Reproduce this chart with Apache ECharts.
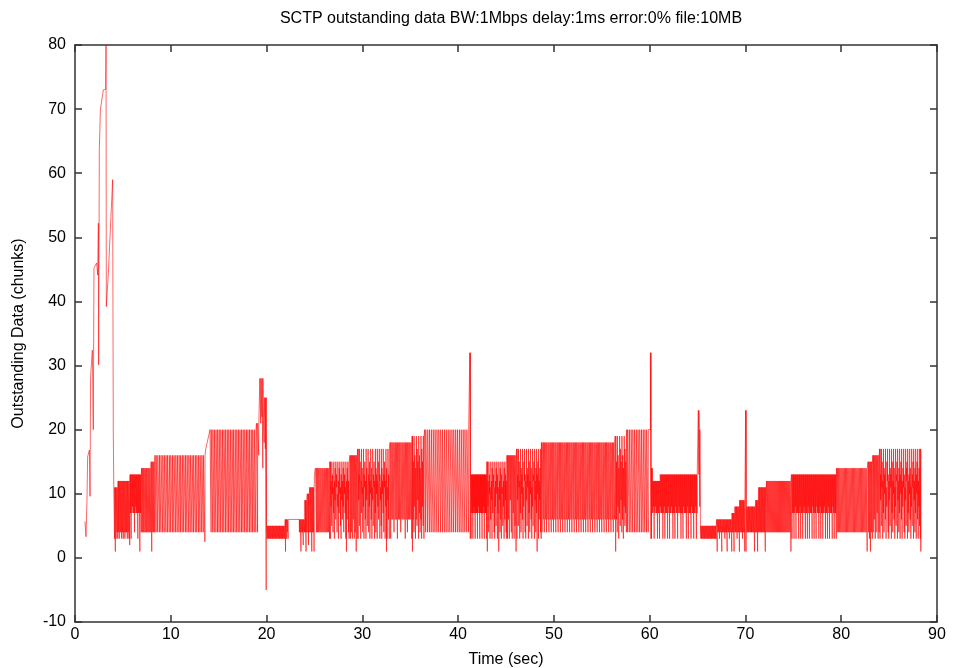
<!DOCTYPE html>
<html>
<head>
<meta charset="utf-8">
<title>SCTP outstanding data</title>
<script src="https://cdn.jsdelivr.net/npm/echarts@6/dist/echarts.min.js"></script>
<style>
  html, body { margin: 0; padding: 0; background: #ffffff; }
  #chart { width: 956px; height: 668px; }
</style>
</head>
<body>
<div id="chart"></div>
<script>
// SCTP association trace: outstanding chunks over time (BW 1 Mbps, delay 1 ms, 0% loss, 10 MB file)

const chartTitle = 'SCTP outstanding data BW:1Mbps delay:1ms error:0% file:10MB';
const xTitle = 'Time (sec)';
const yTitle = 'Outstanding Data (chunks)';
const xTicks = [0, 10, 20, 30, 40, 50, 60, 70, 80, 90];
const yTicks = [-10, 0, 10, 20, 30, 40, 50, 60, 70, 80];

// Slow start: [time s, outstanding chunks]
const startup = [
  [1.04, 5.7], [1.15, 3.3], [1.25, 9.0], [1.32, 15.8], [1.5, 16.8], [1.57, 9.6], [1.63, 28.3],
  [1.81, 32.4], [1.91, 20.0], [1.98, 45.2], [2.26, 46.0], [2.37, 44.1], [2.44, 52.2], [2.47, 30.1],
  [2.54, 63.6], [2.65, 69.9], [2.96, 73.0], [3.2, 73.1], [3.24, 80], [3.27, 39.2], [3.48, 44.4],
  [3.93, 59.0], [3.97, 35.1], [4.0, 19.4]
];

// Congestion window level (chunks) from the given time onwards
const cwndSteps = [
  [4.05, 11], [4.5, 12], [5.75, 13], [6.95, 14], [7.95, 15], [8.35, 16],
  [13.65, 17], [13.8, 18], [13.95, 19], [14.1, 20], [18.95, 21], [19.3, 28], [19.68, 21],
  [19.8, 25], [20.0, 5], [21.95, 6], [24.0, 9], [24.25, 10], [24.5, 11], [25.0, 13], [25.1, 14],
  [26.6, 15], [28.7, 16], [29.5, 17], [32.9, 18], [35.2, 19], [36.5, 20], [41.22, 32], [41.3, 13],
  [43.0, 15], [45.1, 16], [46.1, 17], [48.7, 18], [56.4, 19], [57.6, 20], [60.08, 32], [60.15, 14],
  [60.3, 12], [61.1, 13], [65.08, 23], [65.18, 20], [65.3, 5], [67.0, 6], [68.6, 7], [68.9, 8],
  [69.4, 9], [70.02, 23], [70.08, 8], [71.1, 9], [71.4, 11], [72.2, 12], [74.8, 13], [79.5, 14],
  [82.8, 15], [83.3, 16], [84.0, 17]
];

// SACK arrivals: [time s, outstanding chunks right after the SACK, refill peak when below the window]
const sacksA = [
  [4.12,3],[4.2,1],[4.28,3],[4.37,4],[4.45,3],
  [4.53,4],[4.61,3],[4.7,4],[4.78,4],[4.86,3],[4.95,4],[5.03,3],[5.12,4],[5.2,3],[5.28,4],[5.37,4],[5.45,3],[5.53,4],[5.62,3],[5.7,2],
  [5.78,7],[5.85,3],[5.92,7],[5.99,8],[6.06,7],[6.13,7],[6.2,4],[6.27,7],[6.34,8],[6.41,7],[6.48,7],[6.55,3],[6.62,7],[6.69,7],[6.76,1],[6.83,7],[6.9,4],
  [7.0,4],[7.1,4],[7.19,4],[7.3,4],[7.4,4],[7.49,4],[7.6,4],[7.7,4],[7.8,4],[7.9,4],[8.0,1],[8.1,4],[8.2,4],[8.3,4],
  [8.45,4],[8.62,4],[8.8,4],[8.96,4],[9.14,4],[9.3,4],[9.48,4],[9.64,4],[9.82,4],[9.98,4],[10.16,4],[10.32,4],[10.5,4],[10.66,4],[10.84,4],[11.0,4],
  [11.18,4],[11.34,4],[11.52,4],[11.68,4],[11.86,4],[12.02,4],[12.2,4],[12.36,4],[12.54,4],[12.7,4],[12.88,4],[13.04,4],[13.22,4],[13.38,4],[13.55,2.5],
  [14.2,4],[14.37,4],[14.53,4],[14.7,4],[14.87,4],[15.03,4],[15.2,4],[15.37,4],[15.53,4],[15.7,4],[15.87,4],[16.03,4],[16.2,4],[16.37,4],[16.53,4],
  [16.7,4],[16.87,4],[17.03,4],[17.2,4],[17.37,4],[17.53,4],[17.7,4],[17.87,4],[18.03,4],[18.2,4],[18.37,4],[18.53,4],[18.7,4],[18.87,4],
  [19.05,4],[19.17,16],[19.38,21],[19.5,22],[19.6,14],[19.74,18],[19.86,17],[19.95,-5]
];

const sacksB = [
  [20.05,3],[20.13,3],[20.21,3],[20.29,3],[20.37,3],[20.45,3],[20.53,3],[20.61,3],[20.69,3],[20.77,3],[20.85,3],[20.93,3],
  [21.01,3],[21.09,3],[21.17,3],[21.25,3],[21.33,3],[21.41,3],[21.49,3],[21.57,3],[21.65,3],[21.73,3],[21.81,3],[21.89,3],
  [21.97,1],[22.06,3],[22.15,4],[22.24,3],
  [23.42,4],[23.5,4],[23.58,1],[23.66,4],[23.74,4],[23.82,2],[23.9,4],[23.97,4],
  [24.04,4],[24.11,1],[24.18,4],[24.3,4],[24.37,2],[24.44,4],[24.55,4],[24.63,4],[24.71,1],[24.79,4],[24.87,4],[24.95,1],
  [25.2,4],[25.31,4],[25.42,4],[25.54,4],[25.65,4],[25.77,4],[25.88,4],[26.0,4],[26.11,4],[26.23,4],[26.34,4],[26.46,4],[26.57,3],
  [26.65,3],[26.72,8,12],[26.79,5],[26.86,10,13],[26.93,4,11],[27.0,7],[27.07,3,12],[27.14,9,14],[27.21,6],[27.28,11,13],[27.35,4,10],[27.42,8],
  [27.49,3,12],[27.56,7,14],[27.63,10],[27.7,5,11],[27.77,3,13],[27.84,9],[27.91,6,12],[27.98,8,14],[28.05,4],[28.12,10,13],[28.19,7,11],[28.26,3],
  [28.33,1,12],[28.4,6,14],[28.47,9],[28.54,4,12],[28.61,3],
  [28.75,3],[28.85,4],[28.95,3],[29.05,6],[29.15,3],[29.25,4],[29.35,1],[29.45,3],
  [29.55,3],[29.62,9,13],[29.68,5],[29.75,12,15],[29.82,3,12],[29.89,7],[29.96,10,14],[30.03,4,11],[30.1,8],[30.16,3,13],[30.23,11,15],[30.3,6,12],
  [30.37,3],[30.44,9,14],[30.51,5,11],[30.58,12],[30.65,4,13],[30.72,8,15],[30.78,3,12],[30.85,10],[30.92,6,14],[30.99,3,11],[31.06,9],[31.13,5,13],
  [31.2,11,15],[31.27,3,12],[31.34,7],[31.4,4,14],[31.47,10,13],[31.54,3],[31.61,8,12],[31.68,6,15],[31.75,12],[31.82,3,13],[31.89,9,11],[31.96,5],
  [32.02,3,14],[32.09,10,12],[32.16,7],[32.23,4,13],[32.3,11,15],[32.37,3,12],[32.44,8],[32.51,1,14],[32.58,3,11],[32.65,9],[32.72,6,13],[32.8,3],
  [32.95,3],[33.07,6],[33.18,6],[33.3,4],[33.42,6],[33.53,6],[33.65,3],[33.77,6],[33.88,6],[34.0,4],[34.12,6],[34.23,6],[34.35,6],[34.47,3],[34.58,6],[34.7,4],
  [34.82,6],[34.93,6],[35.05,6],[35.15,3],
  [35.22,1],[35.3,6,15],[35.38,4],[35.46,8,16],[35.54,3,14],[35.62,6],[35.7,5,17],[35.78,9,15],[35.86,3],[35.94,7,16],[36.02,4,14],[36.1,6],
  [36.18,3,17],[36.26,8,15],[36.34,5],[36.42,3],
  [36.6,4],[36.8,4],[36.99,4],[37.18,4],[37.38,4],[37.57,4],[37.77,4],[37.96,4],[38.16,4],[38.35,4],[38.55,4],[38.74,4],[38.94,4],[39.13,4],[39.33,4],[39.52,4],
  [39.72,4],[39.91,4],[40.11,4],[40.3,4],[40.5,4],[40.69,4],[40.89,4],[41.08,4],
  [41.26,3]
];

const sacksC = [
  [41.35,3],[41.41,7],[41.47,7],[41.53,3],[41.59,7],[41.65,8],[41.71,7],[41.77,3],[41.83,7],[41.89,7],[41.95,7],[42.01,3],[42.07,7],[42.13,8],
  [42.19,7],[42.25,3],[42.31,7],[42.37,7],[42.43,7],[42.49,3],[42.55,7],[42.61,7],[42.67,8],[42.73,3],[42.79,7],[42.85,7],[42.91,7],[42.97,3],
  [43.04,1],[43.11,8,12],[43.18,4],[43.25,10,13],[43.32,3,11],[43.39,6],[43.46,9,12],[43.53,3,14],[43.6,7],[43.67,11,13],[43.74,4,11],[43.81,3],
  [43.88,8,12],[43.95,5,14],[44.02,10],[44.09,3,13],[44.16,7,11],[44.23,1],[44.3,9,12],[44.37,4,14],[44.44,6],[44.51,3,13],[44.58,10,11],[44.65,5],
  [44.72,8,12],[44.79,3,14],[44.86,6],[44.93,9,13],[45.0,4,12],[45.06,3],
  [45.14,3],[45.24,6],[45.34,3],[45.44,9],[45.54,4],[45.64,3],[45.74,7],[45.84,3],[45.94,5],[46.04,1],
  [46.14,3],[46.21,9,13],[46.28,5],[46.35,11,15],[46.42,3,12],[46.49,7],[46.56,4,14],[46.63,10,13],[46.7,6],[46.77,3,11],[46.84,8,15],[46.91,12],
  [46.98,4,13],[47.05,3,12],[47.12,9],[47.19,5,14],[47.26,11,13],[47.33,3],[47.4,7,15],[47.47,4,12],[47.54,10],[47.61,6,14],[47.68,3,11],[47.75,8],
  [47.82,5,13],[47.89,12,15],[47.96,3],[48.03,9,12],[48.1,4,14],[48.17,7],[48.24,1,13],[48.31,10,15],[48.38,3],[48.45,6,12],[48.52,9,14],[48.59,4],[48.66,3],
  [48.75,4],[48.88,6],[48.99,4],[49.12,6],[49.23,4],[49.36,6],[49.47,4],[49.6,6],[49.71,4],[49.84,6],[49.95,4],[50.08,6],[50.19,4],[50.32,6],[50.43,4],[50.56,6],
  [50.67,4],[50.8,6],[50.91,4],[51.04,6],[51.15,4],[51.28,6],[51.39,4],[51.52,6],[51.63,4],[51.76,6],[51.87,4],[52.0,6],[52.11,4],[52.24,6],[52.35,4],[52.48,6],
  [52.59,4],[52.72,6],[52.83,4],[52.96,6],[53.07,4],[53.2,6],[53.31,4],[53.44,6],[53.55,4],[53.68,6],[53.79,4],[53.92,6],[54.03,4],[54.16,6],[54.27,4],[54.4,6],
  [54.51,4],[54.64,6],[54.75,4],[54.88,6],[54.99,4],[55.12,6],[55.23,4],[55.36,6],[55.47,4],[55.6,6],[55.71,4],[55.84,6],[55.95,4],[56.08,6],[56.19,4],[56.32,6],
  [56.44,1],[56.52,6,15],[56.6,4],[56.68,8,16],[56.76,3,14],[56.84,7],[56.92,5,17],[57.0,9,15],[57.08,4],[57.16,6,16],[57.24,3,14],[57.32,8],
  [57.4,5,17],[57.48,7,15],[57.56,4],
  [57.68,4],[57.86,4],[58.04,4],[58.22,4],[58.4,4],[58.58,4],[58.76,4],[58.94,4],[59.12,4],[59.3,4],[59.48,4],[59.66,4],[59.84,4],
  [60.12,3]
];

const sacksD = [
  [60.18,3],[60.25,7],[60.32,7],[60.39,8],[60.46,3],[60.53,7],[60.6,8],[60.67,7],[60.74,7],[60.81,3],[60.88,7],[60.95,7],[61.02,3],[61.09,8],
  [61.16,7],[61.23,7],[61.3,7],[61.37,3],[61.44,7],[61.51,8],[61.58,3],[61.65,7],[61.72,7],[61.79,7],[61.86,3],[61.93,8],[62.0,7],[62.07,3],
  [62.14,7],[62.21,7],[62.28,8],[62.35,7],[62.42,3],[62.49,7],[62.56,7],[62.63,3],[62.7,8],[62.77,7],[62.84,7],[62.91,3],[62.98,7],[63.05,8],
  [63.12,7],[63.19,7],[63.26,3],[63.33,7],[63.4,7],[63.47,3],[63.54,8],[63.61,7],[63.68,7],[63.75,7],[63.82,3],[63.89,7],[63.96,8],[64.03,3],
  [64.1,7],[64.17,7],[64.24,7],[64.31,3],[64.38,8],[64.45,7],[64.52,7],[64.59,3],[64.66,7],[64.73,7],[64.8,8],[64.87,3],[64.94,7],
  [65.12,13],[65.22,8],
  [65.33,3],[65.41,3],[65.49,3],[65.57,3],[65.65,3],[65.73,3],[65.81,3],[65.89,3],[65.97,3],[66.05,3],[66.13,3],[66.21,3],[66.29,3],[66.37,3],
  [66.45,3],[66.53,3],[66.61,3],[66.69,3],[66.77,3],[66.85,3],[66.93,3],
  [67.04,1],[67.12,4],[67.2,4],[67.28,3],[67.36,4],[67.44,4],[67.52,1],[67.6,4],[67.68,4],[67.76,4],[67.84,3],[67.92,4],[68.0,4],[68.08,1],
  [68.16,4],[68.24,4],[68.32,3],[68.4,4],[68.48,4],[68.56,1],
  [68.64,4],[68.72,4],[68.8,1],[68.88,4],[68.96,4],[69.04,4],[69.12,3],[69.2,4],[69.28,4],[69.36,1],[69.44,4],[69.52,4],[69.6,4],[69.68,3],
  [69.76,4],[69.84,4],[69.92,1],
  [70.05,1],
  [70.14,4],[70.22,4],[70.3,4],[70.38,4],[70.46,4],[70.54,4],[70.62,4],[70.7,4],[70.78,4],[70.86,4],[70.94,1],[71.02,4],[71.1,4],[71.18,4],
  [71.26,1],[71.34,4],[71.42,4],[71.5,4],[71.58,4],[71.66,4],[71.74,4],[71.82,4],[71.9,4],[71.98,4],[72.06,1],[72.14,4]
];

const sacksE = [
  [72.24,4],[72.34,4],[72.44,4],[72.54,4],[72.64,4],[72.74,4],[72.84,4],[72.94,4],[73.04,4],[73.14,4],[73.24,4],[73.34,4],[73.44,4],
  [73.54,4],[73.64,4],[73.74,4],[73.84,4],[73.94,4],[74.04,4],[74.14,4],[74.24,4],[74.34,4],[74.44,4],[74.54,4],[74.64,4],[74.74,1],
  [74.85,3],[74.92,7],[74.99,7],[75.06,3],[75.13,7],[75.2,8],[75.27,3],[75.34,7],[75.41,7],[75.48,7],[75.55,3],[75.62,7],[75.69,8],[75.76,3],
  [75.83,7],[75.9,7],[75.97,3],[76.04,7],[76.11,8],[76.18,7],[76.25,3],[76.32,7],[76.39,7],[76.46,3],[76.53,8],[76.6,7],[76.67,3],[76.74,7],
  [76.81,7],[76.88,7],[76.95,3],[77.02,8],[77.09,7],[77.16,3],[77.23,7],[77.3,7],[77.37,3],[77.44,8],[77.51,7],[77.58,7],[77.65,3],[77.72,7],
  [77.79,8],[77.86,3],[77.93,7],[78.0,7],[78.07,3],[78.14,7],[78.21,8],[78.28,7],[78.35,3],[78.42,7],[78.49,7],[78.56,3],[78.63,8],[78.7,7],
  [78.77,3],[78.84,7],[78.91,7],[78.98,7],[79.05,3],[79.12,8],[79.19,7],[79.26,3],[79.33,7],[79.4,7],[79.47,3],
  [79.58,4],[79.7,4],[79.82,4],[79.94,4],[80.06,4],[80.18,4],[80.3,4],[80.42,4],[80.54,4],[80.66,4],[80.78,4],[80.9,4],[81.02,4],[81.14,4],
  [81.26,4],[81.38,4],[81.5,4],[81.62,4],[81.74,4],[81.86,4],[81.98,4],[82.1,4],[82.22,4],[82.34,4],[82.46,4],[82.58,4],[82.7,1],
  [82.84,4],[82.94,3],[83.04,1],[83.14,4],[83.24,3],[83.34,4],[83.44,6],[83.54,3],[83.64,4],[83.74,7],[83.84,3],[83.94,4],
  [84.04,3],[84.11,9,13],[84.18,5],[84.25,11,15],[84.32,3,12],[84.39,7],[84.46,4,14],[84.53,10,13],[84.6,6],[84.67,3,11],[84.74,8,15],[84.81,12],
  [84.88,4,13],[84.95,3,12],[85.02,9],[85.09,5,14],[85.16,11,13],[85.23,3],[85.3,7,15],[85.37,4,12],[85.44,10],[85.51,6,14],[85.58,3,11],[85.65,8],
  [85.72,5,13],[85.79,12,15],[85.86,3],[85.93,9,12],[86.0,4,14],[86.07,7],[86.14,3,13],[86.21,10,15],[86.28,6],[86.35,3,12],[86.42,8,14],[86.49,11],
  [86.56,4,13],[86.63,3,11],[86.7,9],[86.77,5,14],[86.84,12,15],[86.91,3],[86.98,7,12],[87.05,4,13],[87.12,10],[87.19,6,14],[87.26,3,11],[87.33,8],
  [87.4,5,13],[87.47,11,15],[87.54,3],[87.61,9,12],[87.68,4,14],[87.75,7],[87.82,3,13],[87.89,10,15],[87.96,6],[88.03,3,12],[88.1,8,14],[88.17,5],
  [88.24,3],[88.3,1]
];

// Walk the cwnd steps and SACK arrivals in time order: at each SACK the
// trace drops to the post-SACK value, then refills to the window (or to the
// given peak) and holds there until the next event.
function buildTrace() {
  const pts = startup.map(p => [p[0], p[1]]);
  const sacks = [].concat(sacksA, sacksB, sacksC, sacksD, sacksE);
  const dip = 0.012;
  let level = null;
  let top = null;
  let si = 0;
  let k = 0;
  while (si < cwndSteps.length || k < sacks.length) {
    const ts = si < cwndSteps.length ? cwndSteps[si][0] : Infinity;
    const tk = k < sacks.length ? sacks[k][0] : Infinity;
    if (ts <= tk) {
      if (top !== null) pts.push([ts, top]);
      level = cwndSteps[si][1];
      top = level;
      pts.push([ts, level]);
      si++;
    } else {
      const s = sacks[k];
      const peak = s.length > 2 ? s[2] : level;
      pts.push([s[0], top], [s[0] + dip, s[1]], [s[0] + 2 * dip, peak]);
      top = peak;
      k++;
    }
  }
  return pts;
}

const FONT = '"Liberation Sans", Arial, Helvetica, sans-serif';
const frameLine = { show: true, onZero: false, lineStyle: { color: '#333333', width: 1.5 } };
const frameTick = { show: true, inside: true, length: 7, lineStyle: { color: '#333333', width: 1.5 } };
const labelStyle = { fontFamily: FONT, fontSize: 16, color: '#000000' };

const chart = echarts.init(document.getElementById('chart'), null, { renderer: 'canvas' });
chart.setOption({
  animation: false,
  backgroundColor: '#ffffff',
  title: {
    text: chartTitle,
    left: 506,
    top: 6,
    textAlign: 'center',
    textStyle: { fontFamily: FONT, fontSize: 16, fontWeight: 'normal', color: '#000000' }
  },
  grid: { left: 75, right: 19, top: 45, bottom: 46, outerBoundsMode: 'none', containLabel: false },
  xAxis: [
    {
      type: 'value', position: 'bottom',
      min: xTicks[0], max: xTicks[xTicks.length - 1], interval: 10,
      name: xTitle, nameLocation: 'middle', nameGap: 30,
      nameTextStyle: labelStyle,
      axisLine: frameLine, axisTick: frameTick,
      axisLabel: Object.assign({ margin: 5 }, labelStyle),
      splitLine: { show: false }
    },
    {
      type: 'value', position: 'top',
      min: xTicks[0], max: xTicks[xTicks.length - 1], interval: 10,
      axisLine: frameLine, axisTick: frameTick,
      axisLabel: { show: false }, splitLine: { show: false }
    }
  ],
  yAxis: [
    {
      type: 'value', position: 'left',
      min: yTicks[0], max: yTicks[yTicks.length - 1], interval: 10,
      name: yTitle, nameLocation: 'middle', nameGap: 48, nameRotate: 90,
      nameTextStyle: labelStyle,
      axisLine: frameLine, axisTick: frameTick,
      axisLabel: Object.assign({ margin: 9 }, labelStyle),
      splitLine: { show: false }
    },
    {
      type: 'value', position: 'right',
      min: yTicks[0], max: yTicks[yTicks.length - 1], interval: 10,
      axisLine: frameLine, axisTick: frameTick,
      axisLabel: { show: false }, splitLine: { show: false }
    }
  ],
  series: [
    {
      type: 'line',
      xAxisIndex: 0,
      yAxisIndex: 0,
      data: buildTrace(),
      symbol: 'none',
      showSymbol: false,
      silent: true,
      clip: true,
      lineStyle: { color: '#ff0000', width: 0.6 }
    }
  ]
});
</script>
</body>
</html>
